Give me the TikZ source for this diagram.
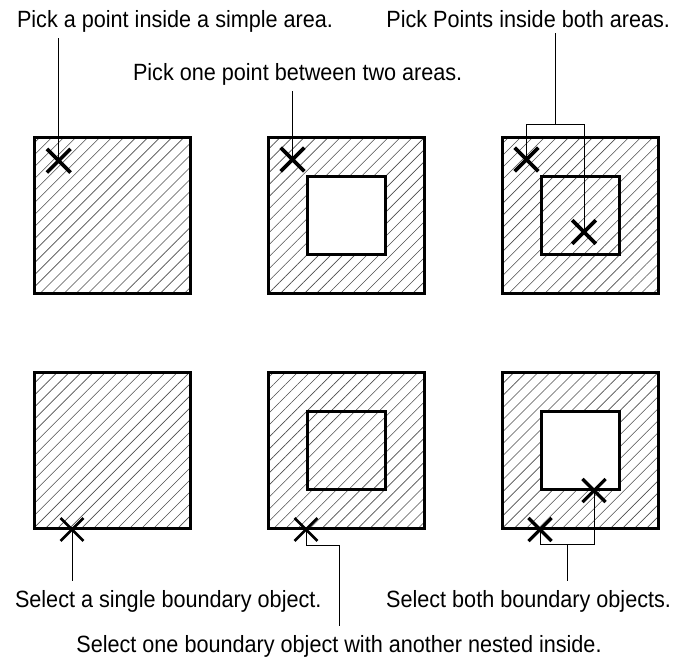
\documentclass[tikz,border=0pt]{standalone}
\usepackage{fontspec}
\setmainfont{Liberation Sans}[FakeStretch=0.92]
\usetikzlibrary{positioning,calc,patterns.meta,shapes.misc}

\begin{document}
\begin{tikzpicture}[
  x=1pt,y=-1pt,
  font=\fontsize{23.5}{27}\selectfont,
  area/.style={draw,line width=3pt,minimum size=156pt,inner sep=0pt,
               pattern={Lines[angle=45,distance=8.5pt,line width=0.6pt]},
               pattern color=black!70},
  hole/.style={draw,line width=3pt,minimum size=78pt,inner sep=0pt},
  void/.style={hole,fill=white},
  pick/.style={cross out,draw,line width=3.6pt,minimum size=20pt,inner sep=0pt},
  lead/.style={draw,line width=1pt},
  lbl/.style={inner sep=0pt,outer sep=5pt},
]
\useasboundingbox (0,0) rectangle (679,658);

% top row: pick points
\node[area] (a1) at (112,215) {};
\node[area] (a2) at (346,215) {};
\node[area] (a3) at (580,215) {};
\node[void] (h2) at (a2.center) {};
\node[hole] (h3) at (a3.center) {};

% bottom row: select boundaries
\node[area] (a4) at (112,450) {};
\node[area] (a5) at (346,450) {};
\node[area] (a6) at (580,450) {};
\node[hole] (h5) at (a5.center) {};
\node[void] (h6) at (a6.center) {};

% the picked points
\node[pick] (p1) at ($(a1.north west)+(25,24)$) {};
\node[pick] (p2) at ($(a2.north west)+(26,24)$) {};
\node[pick] (p3a) at ($(a3.north west)+(26,24)$) {};
\node[pick] (p3b) at ($(h3.center)+(4,17)$) {};
\node[pick,line width=2.8pt] (p4) at ($(a4.south)+(-40,0)$) {};
\node[pick,line width=2.8pt] (p5) at ($(a5.south)+(-40,0)$) {};
\node[pick,line width=3.2pt] (p6a) at ($(a6.south)+(-40,0)$) {};
\node[pick,line width=3.2pt] (p6b) at ($(h6.south)+(14,0)$) {};

% labels
\node[lbl,anchor=base west] (t1) at (12,28) {Pick a point inside a simple area.};
\node[lbl,anchor=base west] (t2) at (128,81) {Pick one point between two areas.};
\node[lbl,anchor=base east] (t3) at (675,28) {Pick Points inside both areas.};
\node[lbl,outer ysep=9pt,anchor=base west] (b1) at (10,607) {Select a single boundary object.};
\node[lbl,outer ysep=9pt,anchor=base] (b2) at (339,652) {Select one boundary object with another nested inside.};
\node[lbl,outer ysep=9pt,anchor=base east] (b3) at (676,607) {Select both boundary objects.};

% leaders
\draw[lead] (p1.center) -- (p1.center |- t1.south);
\draw[lead] (p2.center) -- (p2.center |- t2.south);
\coordinate (k3) at ($(p3a.center)+(0,-35)$);
\coordinate (m3) at ($(p3a.center)!.5!(p3b.center)$);
\draw[lead] (p3a.center) -- (k3) -| (p3b.center);
\draw[lead] (m3 |- k3) -- (m3 |- t3.south);

\draw[lead] (p4.center) -- (p4.center |- b1.north);
\draw[lead] (p5.center) -- ++(0,16) -| (b2.north);
\coordinate (k6) at ($(p6a.center)+(0,15)$);
\coordinate (m6) at ($(p6a.center)!.5!(p6b.center)$);
\draw[lead] (p6a.center) -- (k6) -| (p6b.center);
\draw[lead] (m6 |- k6) -- (m6 |- b3.north);
\end{tikzpicture}
\end{document}
